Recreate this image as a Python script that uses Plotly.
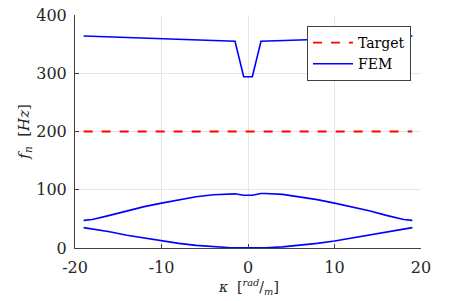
import plotly.graph_objects as go

# wavenumber samples (rad/m)
kappa = [-19, -18, -16, -14, -12, -10, -8, -6, -4, -2, -1.5, -0.5, 0.5, 1.5, 2, 4, 6, 8, 10, 12, 14, 16, 18, 19]
# FEM natural frequencies (Hz) per branch
mode1 = [35, 33, 28, 22, 17, 12, 8, 4.5, 2, 0.5, 0.3, 0, 0, 0.3, 0.5, 2, 4.5, 8, 12, 17, 22, 28, 33, 35]
mode2 = [47.5, 49, 56, 64, 71, 77, 83, 88, 91.5, 93, 93, 90.5, 90.5, 93.5, 93.5, 92, 88, 83, 77, 71, 64, 56, 49, 47.5]
mode3 = [364, 363.5, 362.5, 361.5, 360.5, 359.5, 358.5, 357.5, 356.5, 355.2, 355, 294, 294, 355, 355.2, 356, 357, 358, 359, 360, 361, 362, 363.5, 364]
target_x = [-19, 19]
target_f = [200, 200]
x_ticks = [-20, -10, 0, 10, 20]
x_ticktext = ["-20", "-10", "0", "10", "20"]
y_ticks = [0, 100, 200, 300, 400]

FONT = "DejaVu Serif"

fig = go.Figure()
fig.add_trace(go.Scatter(x=target_x, y=target_f, mode="lines", name="Target",
                         line=dict(color="#ff0000", width=1.8, dash="dash")))
for i, m in enumerate([mode1, mode2, mode3]):
    fig.add_trace(go.Scatter(x=kappa, y=m, mode="lines", name="FEM",
                             showlegend=(i == 0), legendgroup="fem",
                             line=dict(color="#0000ff", width=1.6)))

axis_common = dict(showgrid=True, gridcolor="#e6e6e6", gridwidth=1,
                   showline=True, linecolor="#404040", linewidth=1,
                   ticks="inside", ticklen=4, tickcolor="#404040", automargin=False,
                   ticklabeloverflow="allow",
                   zeroline=False, tickfont=dict(family=FONT, size=16, color="#262626"))

fig.update_layout(
    width=471, height=301,
    margin=dict(l=67, r=58, t=7, b=61, autoexpand=False),
    paper_bgcolor="white", plot_bgcolor="white",
    font=dict(family=FONT, color="#262626"),
    xaxis=dict(range=[-20, 20], tickvals=x_ticks, ticktext=x_ticktext,
               ticklabelstandoff=5, **axis_common),
    yaxis=dict(range=[0, 400], tickvals=y_ticks, ticklabelstandoff=4, **axis_common),
    legend=dict(x=0.971, y=0.953, xanchor="right", yanchor="top",
                bgcolor="white", bordercolor="#404040", borderwidth=1,
                font=dict(family=FONT, size=14, color="#000000"),
                tracegroupgap=0, itemwidth=40),
    showlegend=True,
    annotations=[
        dict(text="<i>κ</i>  [<sup><i>rad</i></sup>/<sub><i>m</i></sub>]",
             xref="paper", yref="paper", x=0.5, y=-0.167, xanchor="center", yanchor="middle",
             showarrow=False, font=dict(family=FONT, size=14, color="#262626")),
        dict(text="<i>f<sub>n</sub></i>  [<i>Hz</i>]",
             xref="paper", yref="paper", x=-0.147, y=0.5, xanchor="center", yanchor="middle",
             textangle=-90, showarrow=False, font=dict(family=FONT, size=15, color="#262626")),
    ],
)

fig.write_html("out.html")
